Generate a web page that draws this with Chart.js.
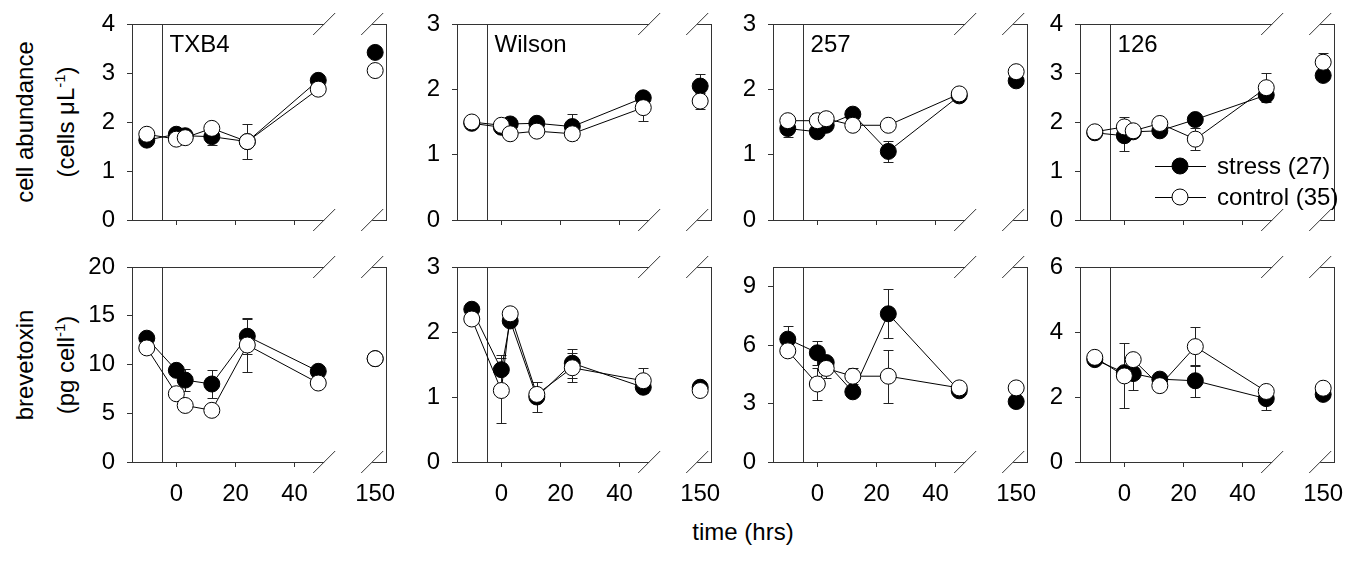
<!DOCTYPE html>
<html>
<head>
<meta charset="utf-8">
<script src="https://cdn.jsdelivr.net/npm/chart.js@4"></script>
<style>
  html, body { margin: 0; padding: 0; background: #fff; overflow: hidden; }
  body { width: 1352px; height: 563px; position: relative; font-family: "Liberation Sans", Arial, Helvetica, sans-serif; }
  canvas { position: absolute; }
  .ytitle { position: absolute; font-size: 24px; line-height: 1; white-space: nowrap; color: #000;
            transform: translate(-50%, -50%) rotate(-90deg); }
  .ytitle sup { font-size: 15px; line-height: 0; }
  #xtitle { position: absolute; font-size: 24px; line-height: 1; white-space: nowrap; color: #000;
            transform: translate(-50%, -50%); left: 743px; top: 532px; }
</style>
</head>
<body>
<div class="ytitle" style="left:25px; top:122px;">cell abundance</div>
<div class="ytitle" style="left:66px; top:122px;">(cells μL<sup>-1</sup>)</div>
<div class="ytitle" style="left:25px; top:365px;">brevetoxin</div>
<div class="ytitle" style="left:66px; top:365px;">(pg cell<sup>-1</sup>)</div>
<div id="xtitle">time (hrs)</div>
<script>
const times = [-10, 0, 3, 12, 24, 48, 150];
const breakAt = 100;      // later samples sit in the small box after the axis break
const dividerAt = -5;     // vertical marker line
const strains = ['TXB4', 'Wilson', '257', '126'];
const seriesLabels = ['stress (27)', 'control (35)'];

// cell abundance (cells per µL), one row per strain
const cellsStress = [
  [1.63, 1.75, 1.72, 1.70, 1.60, 2.85, 3.42],
  [1.48, 1.42, 1.47, 1.48, 1.43, 1.87, 2.05],
  [1.40, 1.35, 1.45, 1.62, 1.05, 1.90, 2.13],
  [1.78, 1.72, 1.80, 1.82, 2.05, 2.55, 2.95]
];
const cellsStressErr = [
  [0.05, 0.05, 0.05, 0.17, 0.05, 0.05, 0.08],
  [0.03, 0.05, 0.05, 0.05, 0.20, 0.05, 0.18],
  [0.13, 0.05, 0.08, 0.05, 0.16, 0.05, 0.05],
  [0.03, 0.31, 0.05, 0.05, 0.05, 0.05, 0.05]
];
const cellsControl = [
  [1.75, 1.65, 1.68, 1.87, 1.60, 2.67, 3.05],
  [1.50, 1.45, 1.32, 1.36, 1.32, 1.72, 1.82],
  [1.52, 1.52, 1.55, 1.45, 1.45, 1.93, 2.27],
  [1.80, 1.90, 1.82, 1.97, 1.65, 2.70, 3.22]
];
const cellsControlErr = [
  [0.05, 0.05, 0.05, 0.05, 0.35, 0.05, 0.05],
  [0.03, 0.05, 0.05, 0.08, 0.05, 0.20, 0.12],
  [0.05, 0.12, 0.10, 0.05, 0.05, 0.05, 0.05],
  [0.03, 0.20, 0.05, 0.05, 0.22, 0.30, 0.19]
];

// brevetoxin (pg per cell)
const toxinStress = [
  [12.7, 9.4, 8.4, 8.0, 12.9, 9.3, 10.6],
  [2.35, 1.42, 2.17, 1.00, 1.52, 1.15, 1.15],
  [6.3, 5.6, 5.1, 3.6, 7.6, 3.65, 3.1],
  [3.15, 2.75, 2.72, 2.55, 2.50, 1.95, 2.08]
];
const toxinStressErr = [
  [0.3, 0.4, 1.1, 1.4, 1.8, 0.3, 0.3],
  [0.05, 0.23, 0.05, 0.23, 0.22, 0.05, 0.05],
  [0.65, 0.6, 0.3, 0.2, 1.25, 0.2, 0.2],
  [0.05, 0.1, 0.5, 0.05, 0.5, 0.35, 0.05]
];
const toxinControl = [
  [11.7, 7.0, 5.8, 5.3, 12.0, 8.1, 10.6],
  [2.20, 1.10, 2.28, 1.04, 1.45, 1.25, 1.10],
  [5.7, 4.0, 4.8, 4.4, 4.4, 3.8, 3.8],
  [3.22, 2.65, 3.15, 2.35, 3.55, 2.17, 2.27]
];
const toxinControlErr = [
  [0.3, 0.3, 0.3, 0.3, 2.8, 0.3, 0.3],
  [0.05, 0.5, 0.05, 0.05, 0.22, 0.19, 0.05],
  [0.2, 0.8, 0.5, 0.4, 1.35, 0.1, 0.1],
  [0.05, 1.0, 0.1, 0.05, 0.6, 0.05, 0.05]
];

const cellsMax = [4, 3, 3, 4];
const cellsTicks = [[0, 1, 2, 3, 4], [0, 1, 2, 3], [0, 1, 2, 3], [0, 1, 2, 3, 4]];
const toxinMax = [20, 3, 10, 6];
const toxinTicks = [[0, 5, 10, 15, 20], [0, 1, 2, 3], [0, 3, 6, 9], [0, 2, 4, 6]];
const xRange = [-15, 50];
const breakRange = [149, 154];
const gapHours = 16.25;   // blank space between the two boxes, in axis hours
const xTicks = [0, 20, 40, 150];

// page layout (px)
const FONT = '"Liberation Sans", Arial, Helvetica, sans-serif';
const axisColor = '#333';
const plotLeft = [132, 457, 773, 1080];
const plotWidth = 255;
const yAxisW = [50, 40, 40, 40];
const padRight = [10, 10, 10, 25];
const rowTop = [24, 267];
const rowBottom = [220, 462];
const padTop = [20, 25];
const axisH = [20, 50];

Chart.defaults.font.family = FONT;
Chart.defaults.font.size = 24;
Chart.defaults.color = '#000';

// linear time axis with a gap between 50 h and 149 h
const mainSpan = xRange[1] - xRange[0];
const timeSpan = mainSpan + gapHours + (breakRange[1] - breakRange[0]);
function timeOffset(v) {
  return v < breakAt ? v - xRange[0] : mainSpan + gapHours + (v - breakRange[0]);
}
const LinearBase = Chart.LinearScale || Chart.registry.getScale('linear');
class BrokenTimeScale extends LinearBase {
  getPixelForValue(value) {
    if (value === null || value === undefined || isNaN(value)) return NaN;
    return this.getPixelForDecimal(timeOffset(value) / timeSpan);
  }
  getValueForPixel(pixel) {
    const h = this.getDecimalForPixel(pixel) * timeSpan;
    return h <= mainSpan ? xRange[0] + h : breakRange[0] + h - mainSpan - gapHours;
  }
}
BrokenTimeScale.id = 'brokenTime';
BrokenTimeScale.defaults = LinearBase.defaults;
Chart.register(BrokenTimeScale);

// fixed axis sizes, no label overhang padding
function fixSize(s, w, h) {
  if (w !== undefined) s.width = w;
  if (h !== undefined) s.height = h;
  s.paddingLeft = s.paddingRight = s.paddingTop = s.paddingBottom = 0;
}

function slash(ctx, x, y) {
  ctx.moveTo(x - 11, y + 11);
  ctx.lineTo(x + 11, y - 11);
}

// both box outlines, break marks, strain name and legend
function framePlugin(title, withLegend) {
  return {
    id: 'frame',
    beforeDatasetsDraw(chart) {
      const {ctx, chartArea: a} = chart;
      const x = chart.scales.x;
      const mainEnd = x.getPixelForValue(xRange[1]);
      const lateStart = x.getPixelForValue(breakRange[0]);
      const yT = Math.round(a.top) + 0.5, yB = Math.round(a.bottom) + 0.5;
      ctx.save();
      ctx.strokeStyle = axisColor;
      ctx.lineWidth = 1;
      ctx.beginPath();
      ctx.moveTo(a.left, yT); ctx.lineTo(mainEnd, yT);
      ctx.moveTo(a.left, yB); ctx.lineTo(mainEnd, yB);
      ctx.moveTo(lateStart, yT); ctx.lineTo(a.right, yT);
      ctx.moveTo(lateStart, yB); ctx.lineTo(a.right, yB);
      const xr = Math.round(a.right) - 0.5;
      ctx.moveTo(xr, yT); ctx.lineTo(xr, yB);
      const xv = Math.round(x.getPixelForValue(dividerAt)) + 0.5;
      ctx.moveTo(xv, a.top); ctx.lineTo(xv, a.bottom);
      slash(ctx, mainEnd, a.top);
      slash(ctx, mainEnd, a.bottom);
      slash(ctx, lateStart, a.top);
      slash(ctx, lateStart, a.bottom);
      ctx.stroke();
      if (title) {
        ctx.fillStyle = '#000';
        ctx.font = '24px ' + FONT;
        ctx.textBaseline = 'alphabetic';
        ctx.textAlign = 'left';
        ctx.fillText(title, x.getPixelForValue(dividerAt) + 8, a.top + 28);
      }
      ctx.restore();
    },
    afterDatasetsDraw(chart) {
      if (!withLegend) return;
      const {ctx, chartArea: a} = chart;
      const rows = [a.bottom - 54, a.bottom - 23];
      ctx.save();
      chart.data.datasets.slice(0, 2).forEach((ds, i) => {
        const y = rows[i];
        ctx.strokeStyle = '#000';
        ctx.lineWidth = 1;
        ctx.beginPath();
        ctx.moveTo(a.left + 75, y + 0.5);
        ctx.lineTo(a.left + 126, y + 0.5);
        ctx.stroke();
        ctx.beginPath();
        ctx.arc(a.left + 100, y, ds.pointRadius, 0, Math.PI * 2);
        ctx.fillStyle = ds.pointBackgroundColor;
        ctx.fill();
        ctx.stroke();
        ctx.fillStyle = '#000';
        ctx.font = '24px ' + FONT;
        ctx.textBaseline = 'middle';
        ctx.textAlign = 'left';
        ctx.fillText(ds.label, a.left + 137, y + 1);
      });
      ctx.restore();
    }
  };
}

const errorBarPlugin = {
  id: 'errorBars',
  beforeDatasetsDraw(chart) {
    const ctx = chart.ctx, ys = chart.scales.y;
    ctx.save();
    ctx.strokeStyle = '#222';
    ctx.lineWidth = 1;
    chart.data.datasets.forEach((ds, i) => {
      const meta = chart.getDatasetMeta(i);
      meta.data.forEach((pt, j) => {
        const v = ds.data[j].y, e = ds.errors[j];
        if (!e) return;
        const top = Math.round(ys.getPixelForValue(v + e)) + 0.5;
        const bot = Math.round(ys.getPixelForValue(v - e)) + 0.5;
        const x = Math.round(pt.x) + 0.5;
        ctx.beginPath();
        ctx.moveTo(x, top); ctx.lineTo(x, bot);
        ctx.moveTo(x - 5, top); ctx.lineTo(x + 5, top);
        ctx.moveTo(x - 5, bot); ctx.lineTo(x + 5, bot);
        ctx.stroke();
      });
    });
    ctx.restore();
  }
};

function addCanvas(left, top, width, height) {
  const c = document.createElement('canvas');
  c.width = width;
  c.height = height;
  c.style.left = left + 'px';
  c.style.top = top + 'px';
  c.style.width = width + 'px';
  c.style.height = height + 'px';
  document.body.appendChild(c);
  return c;
}

function pick(arr, part) {
  return arr.filter((_, i) => part === 'main' ? times[i] < breakAt : times[i] > breakAt);
}

function series(label, values, errors, part, fill, order) {
  const t = pick(times, part);
  return {
    label,
    data: pick(values, part).map((v, i) => ({x: t[i], y: v})),
    errors: pick(errors, part),
    borderColor: '#000',
    borderWidth: 1,
    pointRadius: 8,
    pointHoverRadius: 8,
    pointBackgroundColor: fill,
    pointBorderColor: '#000',
    pointBorderWidth: 1,
    showLine: part === 'main',
    tension: 0,
    clip: false,
    order
  };
}

function makePanel(col, row, stress, stressErr, control, controlErr, yMax, yTicks) {
  const top = rowTop[row], bottom = rowBottom[row];
  const canvas = addCanvas(plotLeft[col] - yAxisW[col], top - padTop[row],
                           yAxisW[col] + plotWidth + padRight[col],
                           padTop[row] + (bottom - top) + axisH[row]);
  new Chart(canvas, {
    type: 'line',
    data: {
      datasets: [
        series(seriesLabels[0], stress, stressErr, 'main', '#000', 1),
        series(seriesLabels[1], control, controlErr, 'main', '#fff', 0),
        series(seriesLabels[0], stress, stressErr, 'late', '#000', 1),
        series(seriesLabels[1], control, controlErr, 'late', '#fff', 0)
      ]
    },
    options: {
      responsive: false,
      animation: false,
      events: [],
      layout: { autoPadding: false, padding: { top: padTop[row], right: padRight[col], left: 0, bottom: 0 } },
      plugins: { legend: { display: false }, tooltip: { enabled: false } },
      scales: {
        x: {
          type: 'brokenTime', min: xRange[0], max: breakRange[1],
          afterBuildTicks: s => { s.ticks = xTicks.map(v => ({value: v})); },
          afterFit: s => fixSize(s, undefined, axisH[row]),
          grid: {
            drawOnChartArea: false, drawTicks: true, tickLength: 5, color: axisColor,
            tickColor: c => (c.tick && c.tick.value > breakAt) ? 'rgba(0,0,0,0)' : axisColor
          },
          border: { display: false },
          ticks: { display: row === 1, padding: 13, color: '#000', maxRotation: 0, autoSkip: false,
                   callback: v => String(v) }
        },
        y: {
          type: 'linear', min: 0, max: yMax,
          afterBuildTicks: s => { s.ticks = yTicks.map(v => ({value: v})); },
          afterFit: s => fixSize(s, yAxisW[col], undefined),
          grid: { drawOnChartArea: false, drawTicks: true, tickLength: 5, color: axisColor },
          border: { color: axisColor, width: 1 },
          ticks: { padding: 12, color: '#000', autoSkip: false }
        }
      }
    },
    plugins: [errorBarPlugin, framePlugin(row === 0 ? strains[col] : '', row === 0 && col === 3)]
  });
}

strains.forEach((name, col) => {
  makePanel(col, 0, cellsStress[col], cellsStressErr[col], cellsControl[col], cellsControlErr[col], cellsMax[col], cellsTicks[col]);
  makePanel(col, 1, toxinStress[col], toxinStressErr[col], toxinControl[col], toxinControlErr[col], toxinMax[col], toxinTicks[col]);
});
</script>
</body>
</html>
